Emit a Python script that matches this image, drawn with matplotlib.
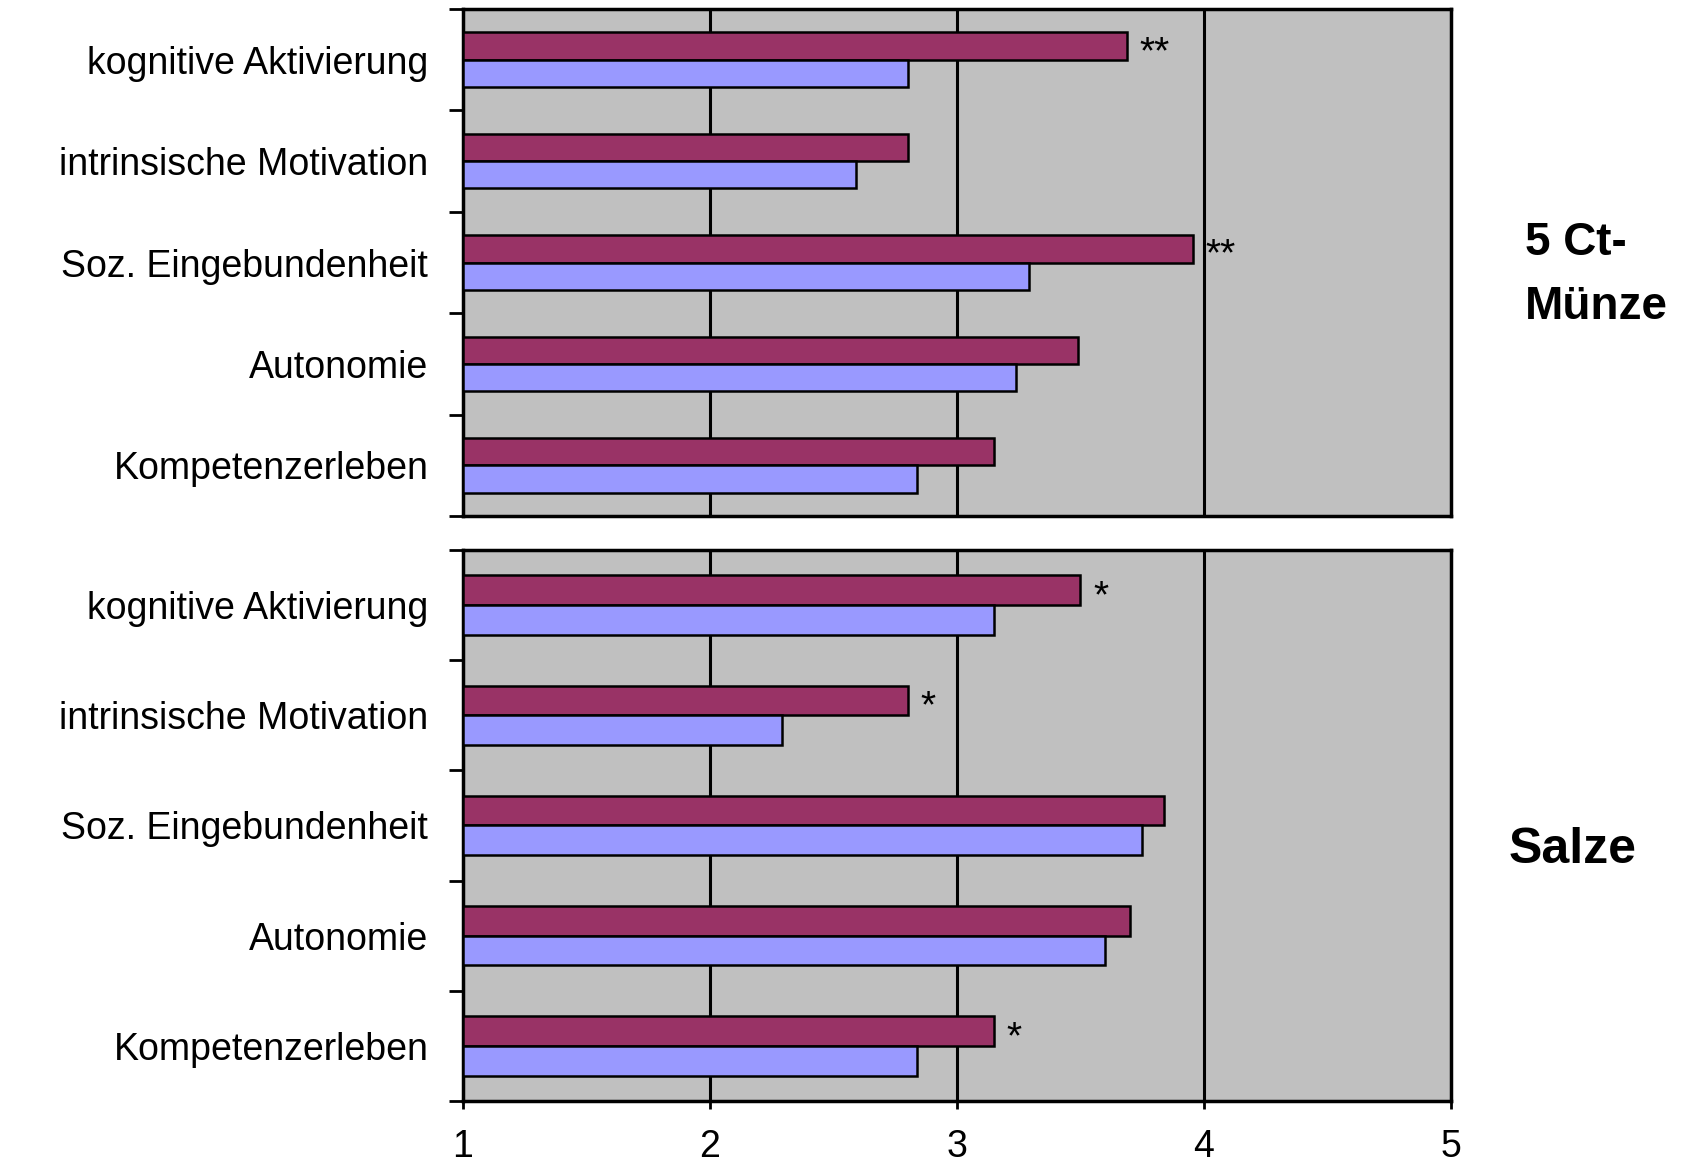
import matplotlib
matplotlib.use("Agg")
import matplotlib.pyplot as plt
from matplotlib.ticker import FixedLocator

plt.rcParams['font.family'] = ['Liberation Sans', 'DejaVu Sans']

categories = ["kognitive Aktivierung", "intrinsische Motivation",
              "Soz. Eingebundenheit", "Autonomie", "Kompetenzerleben"]

# 5-Cent coin unit
coin_red = [3.69, 2.80, 3.955, 3.49, 3.15]
coin_blue = [2.80, 2.59, 3.29, 3.24, 2.84]
coin_sig = ["**", "", "**", "", ""]

# salts unit
salt_red = [3.50, 2.80, 3.84, 3.70, 3.15]
salt_blue = [3.15, 2.29, 3.75, 3.60, 2.84]
salt_sig = ["*", "*", "", "", "*"]

panel_titles = ["5 Ct-\nMünze", "Salze"]
x_ticks = [1, 2, 3, 4, 5]

RED = "#993366"
BLUE = "#9999FF"
BG = "#C0C0C0"

fig = plt.figure(figsize=(17.01, 11.60), dpi=100)
ax_top = fig.add_axes([0.2722, 0.5552, 0.5808, 0.4370])
ax_bot = fig.add_axes([0.2722, 0.0509, 0.5808, 0.4750])

h = 0.27
panels = [(ax_top, coin_red, coin_blue, coin_sig, False),
          (ax_bot, salt_red, salt_blue, salt_sig, True)]

for ax, red, blue, sig, show_x in panels:
    ax.set_facecolor(BG)
    y = list(range(len(categories)))
    base = x_ticks[0]
    ax.barh([v - h / 2 for v in y], [r - base for r in red], height=h, left=base,
            color=RED, edgecolor="black", linewidth=1.8, zorder=3)
    ax.barh([v + h / 2 for v in y], [b - base for b in blue], height=h, left=base,
            color=BLUE, edgecolor="black", linewidth=1.8, zorder=3)
    for yi, r, s in zip(y, red, sig):
        if s:
            ax.annotate(s, xy=(r, yi - h / 2), xytext=(9, -5),
                        textcoords="offset points", ha="left", va="center",
                        fontsize=28, zorder=4)
    ax.set_xlim(x_ticks[0], x_ticks[-1])
    ax.set_ylim(len(categories) - 0.5, -0.5)
    for gx in x_ticks[1:-1]:
        ax.axvline(gx, color="black", linewidth=2.2, zorder=1)
    ax.set_yticks(y)
    ax.set_yticklabels(categories, fontsize=27)
    ax.tick_params(axis="y", which="major", length=0, pad=25)
    ax.yaxis.set_minor_locator(FixedLocator([v - 0.5 for v in range(len(categories) + 1)]))
    ax.tick_params(axis="y", which="minor", length=10, width=2, direction="out")
    if show_x:
        ax.set_xticks(x_ticks)
        ax.set_xticklabels([str(t) for t in x_ticks], fontsize=27)
        ax.tick_params(axis="x", length=6, width=2, direction="out", pad=14)
    else:
        ax.set_xticks([])
    for sp in ax.spines.values():
        sp.set_linewidth(2.5)
        sp.set_color("black")

fig.text(0.8965, 0.763, panel_titles[0], fontsize=33, fontweight="bold",
         ha="left", va="center", linespacing=1.6)
fig.text(0.887, 0.267, panel_titles[1], fontsize=36, fontweight="bold",
         ha="left", va="center")

fig.savefig("out.png", dpi=100)
